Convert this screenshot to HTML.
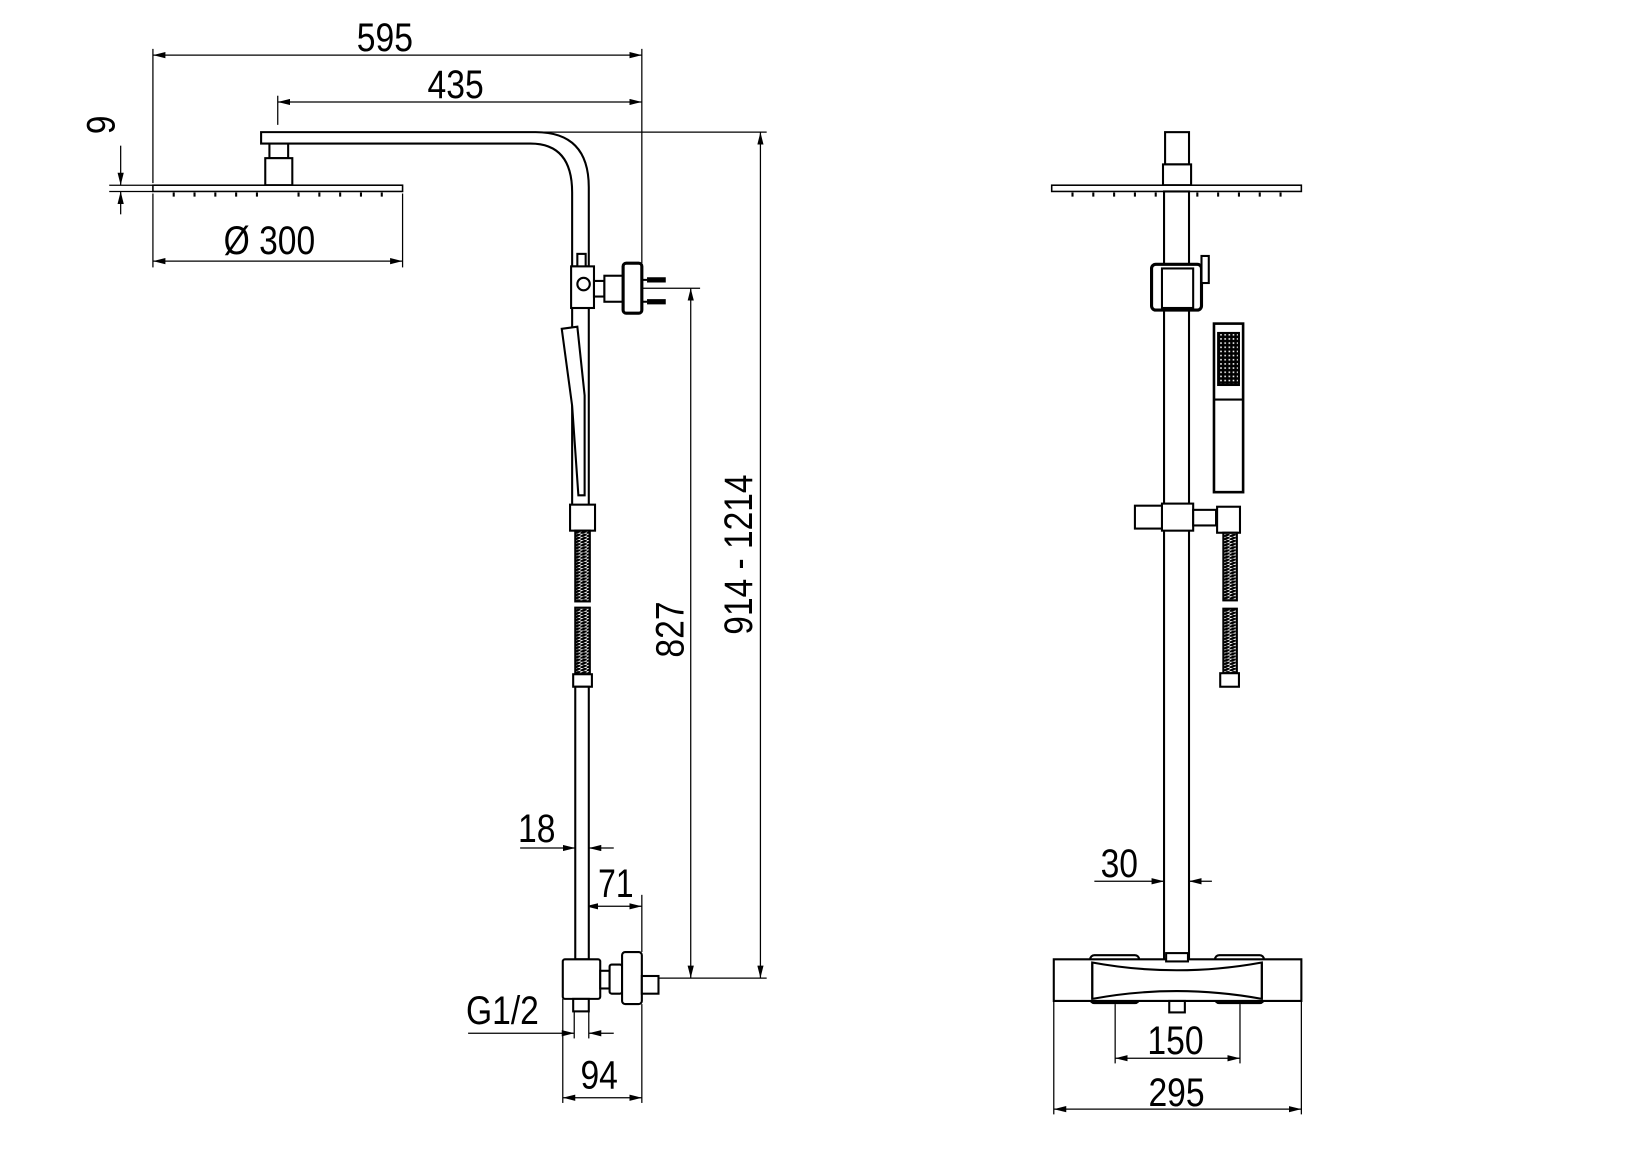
<!DOCTYPE html>
<html><head><meta charset="utf-8"><style>html,body{margin:0;padding:0;background:#fff}svg{display:block}</style></head><body>
<svg width="1628" height="1156" viewBox="0 0 1565 1111" preserveAspectRatio="none" xmlns="http://www.w3.org/2000/svg">
<defs>
<marker id="a" viewBox="0 0 12 6" refX="12" refY="3" markerWidth="12" markerHeight="6" orient="auto-start-reverse" markerUnits="userSpaceOnUse"><path d="M0,0 L12,3 L0,6 z" fill="#000"/></marker>
<pattern id="h" width="6" height="3" patternUnits="userSpaceOnUse"><rect width="6" height="3" fill="#fff"/><path d="M0,3 L6,0" stroke="#000" stroke-width="2.4"/></pattern>
<pattern id="g" width="4" height="4" patternUnits="userSpaceOnUse"><rect width="4" height="4" fill="#000"/><rect x="1" y="1" width="1.5" height="1.5" fill="#fff"/></pattern>
</defs>
<g fill="none" stroke="#000" stroke-width="1.2">
<line x1="147" y1="53" x2="617" y2="53" marker-start="url(#a)" marker-end="url(#a)"/>
<line x1="147" y1="47" x2="147" y2="176"/>
<line x1="617" y1="47" x2="617" y2="253"/>
<line x1="267" y1="98" x2="617" y2="98" marker-start="url(#a)" marker-end="url(#a)"/>
<line x1="267" y1="92" x2="267" y2="120"/>
<line x1="520" y1="127" x2="737" y2="127"/>
<line x1="105" y1="178" x2="147" y2="178"/><line x1="105" y1="184" x2="147" y2="184"/>
<line x1="116" y1="140" x2="116" y2="178" marker-end="url(#a)"/>
<line x1="116" y1="206" x2="116" y2="184" marker-end="url(#a)"/>
<line x1="147" y1="251" x2="387" y2="251" marker-start="url(#a)" marker-end="url(#a)"/>
<line x1="147" y1="186" x2="147" y2="257"/><line x1="387" y1="186" x2="387" y2="257"/>
<line x1="617" y1="277" x2="673" y2="277"/>
<line x1="664" y1="277" x2="664" y2="940" marker-start="url(#a)" marker-end="url(#a)"/>
<line x1="731" y1="127" x2="731" y2="940" marker-start="url(#a)" marker-end="url(#a)"/>
<line x1="633" y1="940" x2="737" y2="940"/>
<line x1="500" y1="815" x2="553" y2="815" marker-end="url(#a)"/>
<line x1="590" y1="815" x2="566" y2="815" marker-end="url(#a)"/>
<line x1="563" y1="871" x2="617" y2="871" marker-start="url(#a)" marker-end="url(#a)"/>
<line x1="563" y1="860" x2="563" y2="920"/><line x1="617" y1="860" x2="617" y2="915"/>
<line x1="450" y1="993" x2="552" y2="993" marker-end="url(#a)"/>
<line x1="590" y1="993" x2="566" y2="993" marker-end="url(#a)"/>
<line x1="552" y1="972" x2="552" y2="998"/><line x1="566" y1="972" x2="566" y2="998"/>
<line x1="541" y1="1055" x2="617" y2="1055" marker-start="url(#a)" marker-end="url(#a)"/>
<line x1="541" y1="960" x2="541" y2="1060"/><line x1="617" y1="965" x2="617" y2="1060"/>
<line x1="1052" y1="847" x2="1119" y2="847" marker-end="url(#a)"/>
<line x1="1165" y1="847" x2="1143" y2="847" marker-end="url(#a)"/>
<line x1="1072" y1="1017" x2="1192" y2="1017" marker-start="url(#a)" marker-end="url(#a)"/>
<line x1="1072" y1="965" x2="1072" y2="1022"/><line x1="1192" y1="965" x2="1192" y2="1022"/>
<line x1="1013" y1="1066" x2="1251" y2="1066" marker-start="url(#a)" marker-end="url(#a)"/>
<line x1="1013" y1="962" x2="1013" y2="1071"/><line x1="1251" y1="962" x2="1251" y2="1071"/>
</g>
<g fill="#fff" stroke="#000" stroke-width="2">
<path d="M251,127 L515,127 Q566,127 566,180 L566,256 L550,256 L550,185 Q550,138 510,138 L251,138 Z"/>
<rect x="259" y="138" width="18" height="14"/>
<rect x="255" y="152" width="26" height="26"/>
<rect x="147" y="178" width="240" height="6" stroke-width="1.5"/>
<rect x="550" y="296" width="16" height="190"/>
<path d="M540,316 L555,314 L562,380 L562,476 L556,476 L550,390 Z"/>
<rect x="555" y="244" width="8" height="14"/>
<rect x="549" y="256" width="22" height="40"/>
<circle cx="561" cy="273" r="6"/>
<rect x="571" y="270" width="10" height="15"/>
<rect x="581" y="265" width="18" height="25"/>
<rect x="599" y="253" width="18" height="48" rx="3" stroke-width="3"/>
<rect x="548" y="485" width="24" height="25"/>
<rect x="553" y="510" width="14" height="68" fill="url(#h)"/>
<rect x="553" y="584" width="14" height="64" fill="url(#h)"/>
<rect x="551" y="648" width="18" height="12"/>
<rect x="553" y="660" width="13" height="262"/>
<rect x="541" y="922" width="36" height="38" rx="2"/>
<rect x="551" y="960" width="15" height="12"/>
<rect x="577" y="933" width="9" height="17"/>
<rect x="586" y="927" width="12" height="28" rx="2"/>
<rect x="598" y="915" width="19" height="50" rx="3"/>
<rect x="617" y="938" width="16" height="17"/>
<rect x="1120" y="127" width="23" height="31"/>
<rect x="1118" y="158" width="27" height="20"/>
<rect x="1011" y="178" width="240" height="6" stroke-width="1.5"/>
<rect x="1119" y="184" width="24" height="738"/>
<rect x="1107" y="254" width="48" height="44" rx="4" stroke-width="3"/>
<rect x="1117" y="258" width="30" height="38"/>
<rect x="1155" y="246" width="7" height="26"/>
<rect x="1167" y="311" width="28" height="162" stroke-width="2.5"/>
<rect x="1171" y="320" width="20" height="50" fill="url(#g)"/>
<line x1="1167" y1="384" x2="1195" y2="384"/>
<rect x="1091" y="486" width="28" height="22"/>
<rect x="1117" y="484" width="30" height="26"/>
<rect x="1147" y="490" width="22" height="15"/>
<rect x="1170" y="487" width="22" height="25"/>
<rect x="1176" y="512" width="13" height="65" fill="url(#h)"/>
<rect x="1176" y="585" width="13" height="62" fill="url(#h)"/>
<rect x="1173" y="647" width="18" height="13"/>
<rect x="1048" y="918" width="47" height="46" rx="4"/>
<rect x="1168" y="918" width="47" height="46" rx="4"/>
<path d="M1013,922 L1251,922 L1251,962 L1013,962 Z"/>
<path d="M1050,925 Q1131,940 1213,925 L1213,960 Q1131,945 1050,960 Z"/>
<line x1="1050" y1="925" x2="1050" y2="960"/><line x1="1213" y1="925" x2="1213" y2="960"/>
<rect x="1124" y="962" width="15" height="11"/>
<rect x="1121" y="916" width="21" height="8"/>
</g>
<g stroke="#000" stroke-width="2">
<path d="M167,185v4M187,185v4M207,185v4M227,185v4M247,185v4M287,185v4M307,185v4M327,185v4M347,185v4M367,185v4"/>
<path d="M1031,185v4M1051,185v4M1071,185v4M1091,185v4M1111,185v4M1151,185v4M1171,185v4M1191,185v4M1211,185v4M1231,185v4"/>
<path d="M622,269h18M622,290h18" stroke-width="5"/>
<path d="M617,269h5M617,290h5" stroke-width="2"/>
</g>
<g font-family="Liberation Sans, sans-serif" font-size="38" fill="#000" text-anchor="middle">
<text x="370" y="49" textLength="54" lengthAdjust="spacingAndGlyphs">595</text>
<text x="438" y="94" textLength="54" lengthAdjust="spacingAndGlyphs">435</text>
<text x="259" y="244" textLength="88" lengthAdjust="spacingAndGlyphs">Ø 300</text>
<text transform="translate(110,120) rotate(-90)" textLength="18" lengthAdjust="spacingAndGlyphs">9</text>
<text transform="translate(657,605) rotate(-90)" textLength="54" lengthAdjust="spacingAndGlyphs">827</text>
<text transform="translate(723,533) rotate(-90)" textLength="154" lengthAdjust="spacingAndGlyphs">914 - 1214</text>
<text x="516" y="809" textLength="36" lengthAdjust="spacingAndGlyphs">18</text>
<text x="592" y="862" textLength="34" lengthAdjust="spacingAndGlyphs">71</text>
<text x="483" y="984" textLength="70" lengthAdjust="spacingAndGlyphs">G1/2</text>
<text x="576" y="1046" textLength="36" lengthAdjust="spacingAndGlyphs">94</text>
<text x="1076" y="843" textLength="36" lengthAdjust="spacingAndGlyphs">30</text>
<text x="1130" y="1013" textLength="54" lengthAdjust="spacingAndGlyphs">150</text>
<text x="1131" y="1063" textLength="54" lengthAdjust="spacingAndGlyphs">295</text>
</g>
</svg>
</body></html>
